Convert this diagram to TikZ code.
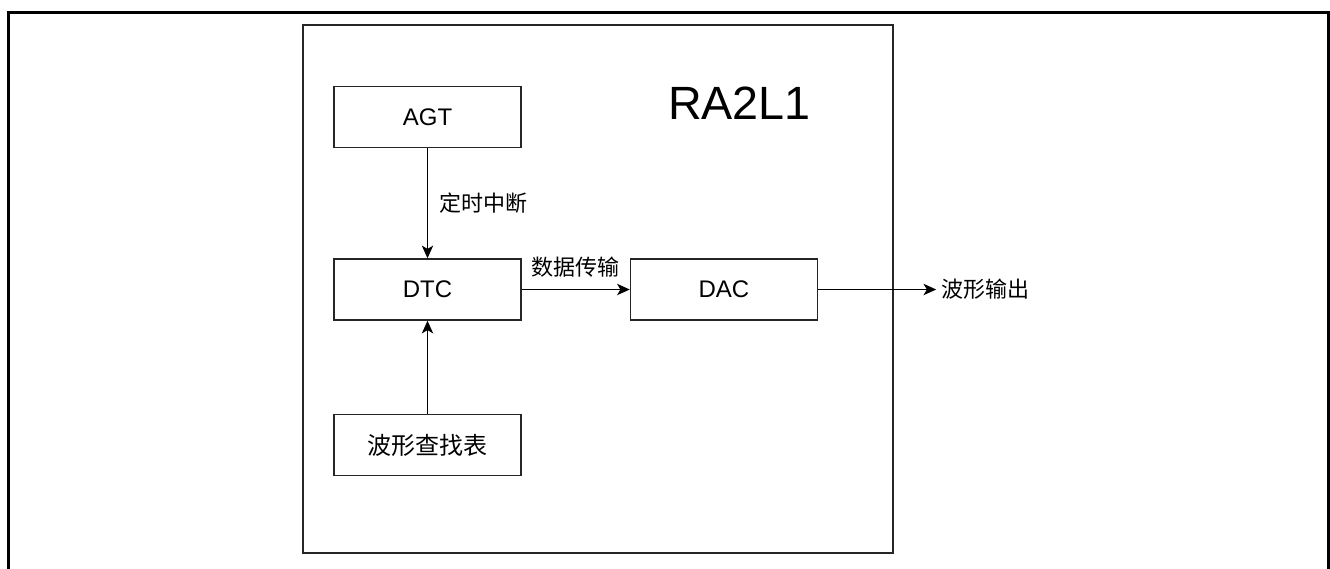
\documentclass[tikz,border=0pt]{standalone}
\usepackage{fontspec}
\setmainfont{Liberation Sans}
\newfontfamily\cjk{Noto Sans CJK SC}
\usetikzlibrary{arrows.meta,positioning}

\tikzset{
	block/.style={rectangle, draw=black!85, line width=1.1pt, minimum width=140.25pt, minimum height=45.75pt, inner sep=0pt, font=\fontsize{18pt}{20pt}\selectfont},
	flow/.style={line width=1pt, -{Stealth[length=9.5pt, width=8.5pt, inset=2.5pt]}},
	note/.style={inner sep=0pt, font=\cjk\fontsize{16.5pt}{18pt}\selectfont}
}

\begin{document}
\begin{tikzpicture}[x=0.75pt, y=-0.75pt]
	\useasboundingbox (0,0) rectangle (1330,568);
	% frame, open at the bottom
	\draw[line width=2.25pt] (8,580) -- (8,12) -- (1328,12) -- (1328,580);

	\node (chip) [rectangle, draw=black!85, line width=1.1pt, minimum width=442.5pt, minimum height=396pt] at (598,289) {};
	\node (title) [inner sep=0pt, font=\fontsize{35pt}{38pt}\selectfont] at (739.5,103) {RA2L1};

	\node (dtc) [block] at (427.5,289.5) {DTC};
	\node (agt) [block, above=82.5pt of dtc] {AGT};
	\node (lut) [block, below=69.75pt of dtc, font=\cjk\fontsize{18pt}{20pt}\selectfont] {波形查找表};
	\node (dac) [block, right=81pt of dtc] {DAC};
	\node (wave) [note, inner sep=3.75pt, right=88.5pt of dac] {波形输出};

	\draw[flow] (agt) -- node[note, anchor=west, xshift=8.25pt] {定时中断} (dtc);
	\draw[flow] (lut) -- (dtc);
	\draw[flow] (dtc) -- node[note, yshift=16.5pt] {数据传输} (dac);
	\draw[flow] (dac) -- (wave);
\end{tikzpicture}
\end{document}
